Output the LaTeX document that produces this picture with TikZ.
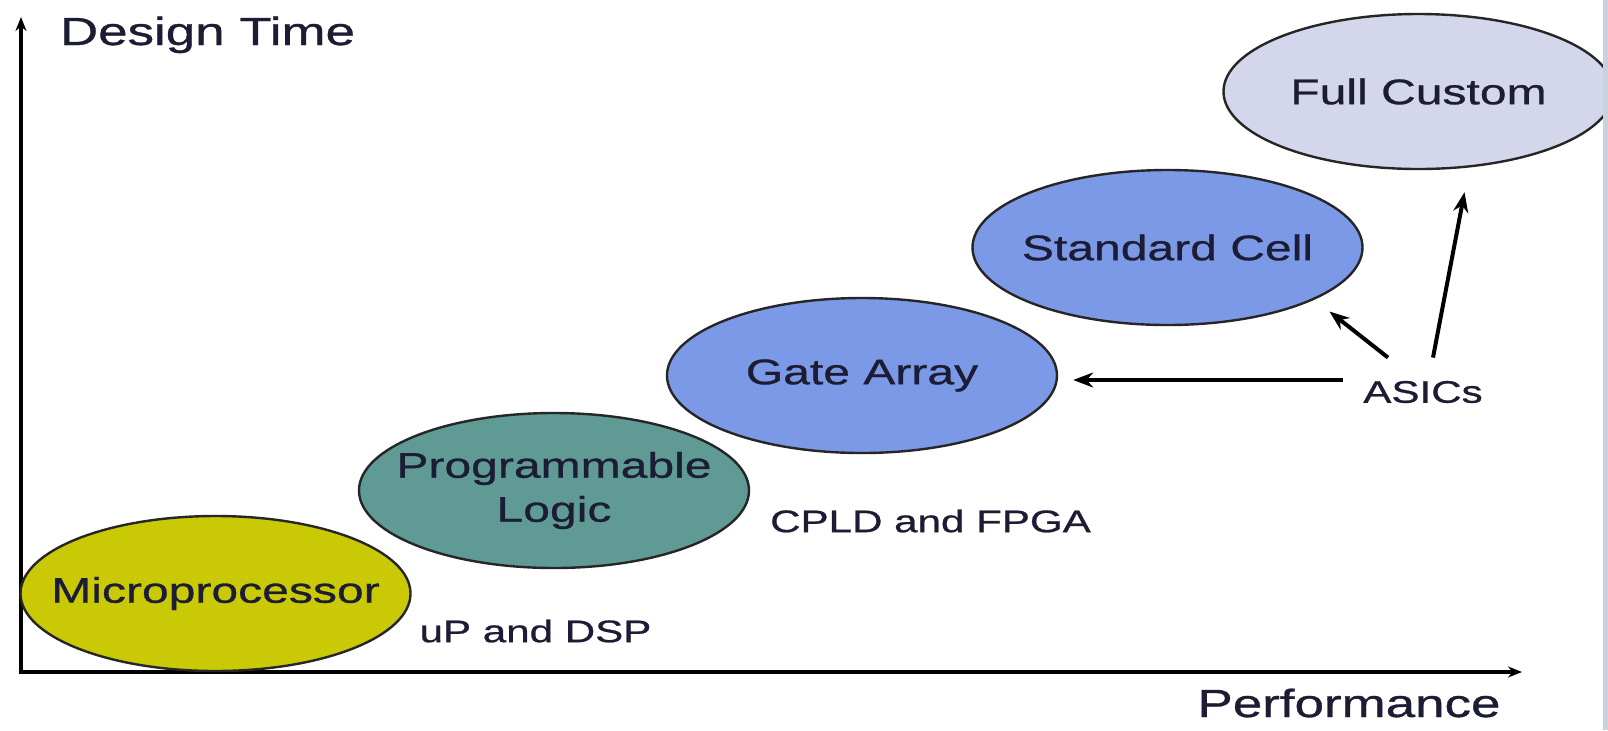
\documentclass[tikz,border=0pt]{standalone}
\usepackage{fontspec}
\setmainfont[FakeStretch=1.35, FakeBold=0.8]{Liberation Sans}
\usepackage{xcolor}
\usepackage{tikz}
\usetikzlibrary{shapes.geometric, arrows.meta}
\definecolor{custom_yellow}{HTML}{C9C905}
\definecolor{custom_teal}{HTML}{5F9A95}
\definecolor{custom_blue}{HTML}{7B99E6}
\definecolor{custom_lilac}{HTML}{D4D7EC}
\definecolor{custom_ink}{HTML}{1C1C34}
\definecolor{custom_strip}{HTML}{C9D3DC}

\begin{document}
\begin{tikzpicture}[x=0.5pt, y=-0.5pt, >={Stealth[length=10pt, width=7.5pt]},
    every node/.style={font=\fontsize{15.6}{18}\selectfont, text=custom_ink},
    blob/.style={ellipse, draw=black!85, line width=1.2pt, minimum width=195pt,
      minimum height=77.5pt, inner xsep=-14pt, inner ysep=0pt, align=center,
      font=\fontsize{17.8}{22}\selectfont},
    axis/.style={font=\fontsize{19.6}{22}\selectfont}]

    \fill[white] (0,0) rectangle (1608,730);
    \useasboundingbox (0,0) rectangle (1608,730);

    % axes
    \coordinate (ytip) at (21,17);
    \coordinate (xtip) at (1522,672);
    \draw[{Stealth[length=7pt, width=5.5pt]}-{Stealth[length=7pt, width=5.5pt]}, line width=1.6pt] (ytip) |- (xtip);
    \node[axis, anchor=base] (ylab) at (207.5,45) {Design Time};
    \node[axis, anchor=base] (xlab) at (1349,717) {Performance};

    % the design styles
    \node[blob, fill=custom_yellow] (micro) at (215.5,593.5) {Microprocessor};
    \node[blob, fill=custom_teal] (prog) at (554,490.5) {Programmable\\Logic};
    \node[blob, fill=custom_blue] (gate) at (862,375.5) {Gate Array};
    \node[blob, fill=custom_blue] (std) at (1167.5,247.5) {Standard Cell};
    \node[blob, fill=custom_lilac] (full) at (1418.5,91.5) {Full Custom};

    \node (updsp) at (535.5,631) {uP and DSP};
    \node (cpld) at (930.5,521) {CPLD and FPGA};
    \node[inner sep=0pt] (asics) at (1423,392) {ASICs};

    \draw[->, line width=2pt, shorten >=7.5pt] ([xshift=-10pt,yshift=6pt]asics.west)
      -- ([yshift=6pt]asics.west -| gate.east);
    \draw[->, line width=2pt] ([xshift=-17.5pt,yshift=11.5pt]asics.north)
      -- ([xshift=81pt,yshift=-32pt]std.center);
    \draw[->, line width=2pt] ([xshift=5pt,yshift=11.5pt]asics.north)
      -- ([xshift=23pt,yshift=-11pt]full.south);

    \fill[custom_strip] (1603,0) rectangle (1608,730);

  \end{tikzpicture}
\end{document}
